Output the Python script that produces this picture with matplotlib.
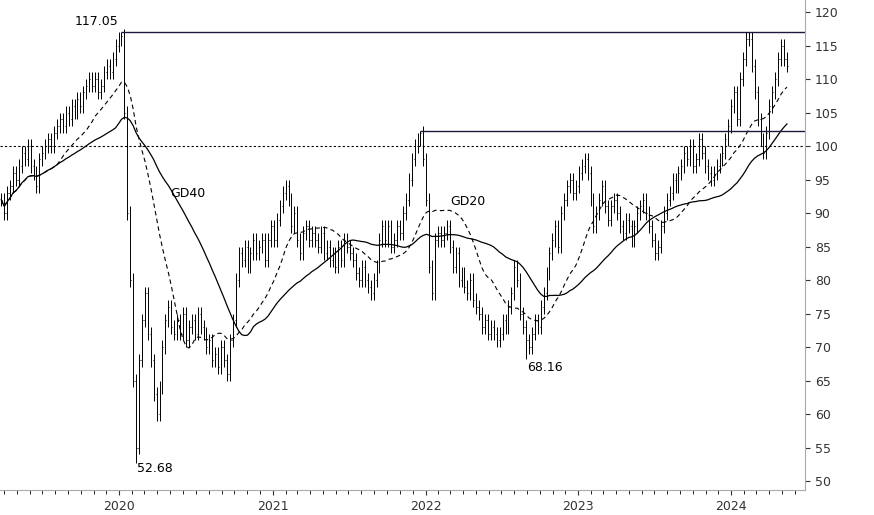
import matplotlib
matplotlib.use("Agg")
import matplotlib.pyplot as plt
import matplotlib.dates as mdates
import numpy as np
import pandas as pd

closes = [92, 90, 93, 94, 96, 95, 97, 99, 98, 100,
          97, 96, 94, 98, 99, 100, 101, 100, 102, 103,
          104, 103, 105, 104, 106, 105, 107, 106, 108, 109,
          110, 109, 110, 108, 109, 111, 112, 111, 113, 115,
          116, 116.5, 105, 90, 80, 65, 55, 68, 74, 78,
          72, 68, 63, 60, 64, 70, 74, 76, 73, 72,
          74, 72, 75, 71, 73, 74, 72, 75, 73, 72,
          70, 71, 68, 69, 67, 70, 68, 66, 71, 74,
          80, 84, 83, 85, 82, 84, 86, 84, 85, 86,
          83, 86, 88, 86, 89, 91, 93, 94, 92, 88,
          90, 86, 84, 87, 88, 86, 87, 86, 85, 87,
          84, 85, 83, 84, 82, 85, 83, 86, 85, 84,
          83, 81, 80, 82, 80, 79, 78, 80, 82, 86, 88, 86,
          88, 85, 86, 88, 87, 90, 92, 95, 98, 100,
          101, 102, 98, 92, 82, 78, 86, 87, 86, 87,
          88, 85, 82, 84, 80, 81, 79, 78, 80, 77,
          76, 75, 73, 74, 72, 73, 72, 71, 72, 74, 73,
          76, 78, 82, 80, 75, 73, 71, 70, 72, 74,
          73, 76, 78, 81, 84, 86, 88, 85, 90, 92,
          94, 95, 93, 94, 96, 97, 98, 96, 92, 88,
          90, 92, 94, 91, 89, 91, 92, 90, 88, 87,
          89, 88, 86, 88, 90, 91, 92, 90, 88, 86,
          84, 85, 88, 90, 92, 93, 95, 94, 96, 97,
          99, 98, 100, 97, 98, 101, 99, 97, 96, 95,
          96, 97, 98, 99, 101, 103, 106, 108, 104, 110,
          113, 116, 116, 112, 108, 104, 101, 99, 102, 106,
          108, 110, 113, 115, 113, 112]
start_date = "2019-03-25"
dates = pd.date_range(start_date, periods=len(closes), freq="W-MON")
c = np.array(closes, float)
o = np.concatenate([[c[0]], c[:-1]])
hi = np.maximum(o, c) + 1.0
lo = np.minimum(o, c) - 1.0
hi[41] = 117.05
lo[46] = 52.68
lo[179] = 68.16
hi[143] = 102.2
gd20 = pd.Series(c).rolling(20, min_periods=1).mean()
gd40 = pd.Series(c).rolling(40, min_periods=1).mean()

fig = plt.figure(figsize=(8.74, 5.15), dpi=100)
ax = fig.add_axes([0.0, 0.0485, 0.921, 0.9515])
x = mdates.date2num(dates)
ax.vlines(x, lo, hi, color="black", lw=0.7)
ax.hlines(o, x - 1.5, x, color="black", lw=0.7)
ax.hlines(c, x, x + 1.5, color="black", lw=0.7)
ax.plot(x, gd20, color="black", lw=0.8, ls=(0, (4, 3)))
ax.plot(x, gd40, color="black", lw=0.9)

xend = mdates.date2num(pd.Timestamp("2024-06-25"))
ax.hlines(117.05, x[41], xend, color="#1a1a3a", lw=1)
ax.hlines(102.2, x[143], xend, color="#1a1a3a", lw=1)
ax.axhline(100, color="black", lw=0.8, ls=(0, (2, 2)))

ax.text(x[41] - 8, 117.6, "117.05", ha="right", va="bottom", fontsize=9)
ax.text(x[46] + 3, 51.8, "52.68", ha="left", va="center", fontsize=9)
ax.text(x[179] + 3, 67.0, "68.16", ha="left", va="center", fontsize=9)
ax.text(mdates.date2num(pd.Timestamp("2020-05-01")), 92.4, "GD40", fontsize=9)
ax.text(mdates.date2num(pd.Timestamp("2022-03-01")), 91.2, "GD20", fontsize=9)

ax.set_xlim(mdates.date2num(pd.Timestamp("2019-03-22")), xend)
ax.set_ylim(48.66, 121.8)
ax.yaxis.tick_right()
ax.set_yticks(range(50, 121, 5))
ax.xaxis.set_major_locator(mdates.YearLocator())
ax.xaxis.set_major_formatter(mdates.DateFormatter("%Y"))
ax.xaxis.set_minor_locator(mdates.MonthLocator())
ax.tick_params(axis="both", labelsize=9, colors="#333333")
ax.tick_params(axis="x", which="minor", length=3)
for s in ["top", "left"]:
    ax.spines[s].set_visible(False)
for s in ["right", "bottom"]:
    ax.spines[s].set_color("#aaaaaa")
fig.savefig("out.png", dpi=100)
